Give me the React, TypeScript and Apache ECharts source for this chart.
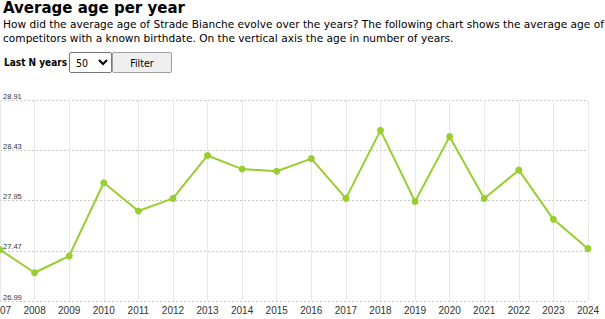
import React, { useEffect, useRef } from "react";
import * as echarts from "echarts";

const years: string[] = [
  "2007", "2008", "2009", "2010", "2011", "2012", "2013", "2014", "2015",
  "2016", "2017", "2018", "2019", "2020", "2021", "2022", "2023", "2024",
];
const avgAge: number[] = [
  27.48, 27.26, 27.42, 28.12, 27.85, 27.97, 28.38, 28.25, 28.23,
  28.35, 27.97, 28.62, 27.94, 28.56, 27.97, 28.24, 27.77, 27.49,
];
const yMin = 26.99;
const yMax = 28.91;
const yStep = 0.48;

const lineColor = "#9acd32";

function Chart() {
  const ref = useRef<HTMLDivElement>(null);
  useEffect(() => {
    if (!ref.current) return;
    const chart = echarts.init(ref.current, undefined, { renderer: "svg" });
    chart.setOption({
      animation: false,
      grid: { left: 0, right: 17, top: 20, bottom: 18, containLabel: false, outerBoundsMode: "none" },
      xAxis: {
        type: "category",
        data: years,
        boundaryGap: false,
        axisLine: { show: false },
        axisTick: { show: false },
        axisLabel: {
          color: "#333",
          fontSize: 10,
          fontFamily: "Liberation Sans",
          margin: 4,
          interval: 0,
        },
        splitLine: { show: true, lineStyle: { color: "#e8e8e8", width: 1, type: "solid" } },
      },
      yAxis: {
        type: "value",
        min: yMin,
        max: yMax,
        interval: yStep,
        axisLine: { show: false },
        axisTick: { show: false },
        axisLabel: {
          inside: true,
          margin: 3,
          verticalAlign: "bottom",
          color: "#333",
          fontSize: 7.5,
          fontFamily: "Liberation Sans",
          formatter: (v: number) => v.toFixed(2),
        },
        splitLine: { show: true, lineStyle: { color: "#c8c8c8", width: 1, type: [2, 2] } },
      },
      series: [
        {
          type: "line",
          data: avgAge,
          symbol: "circle",
          symbolSize: 7,
          lineStyle: { color: lineColor, width: 2 },
          itemStyle: { color: lineColor },
        },
      ],
    });
    return () => chart.dispose();
  }, []);
  return (
    <div
      ref={ref}
      style={{ position: "absolute", left: 0, top: 80, width: 605, height: 239, overflow: "hidden" }}
    />
  );
}

export default function App() {
  return (
    <div style={{ position: "absolute", left: 0, top: 0, width: 605, height: 319, background: "#fff", overflow: "hidden", color: "#000" }}>
      <div
        style={{
          position: "absolute", left: 3, top: -1, fontFamily: "DejaVu Sans", fontWeight: "bold",
          fontSize: 15, lineHeight: "18px", whiteSpace: "nowrap",
        }}
      >
        Average age per year
      </div>
      <div
        style={{
          position: "absolute", left: 3, top: 18, fontFamily: "DejaVu Sans",
          fontSize: 10.6, lineHeight: "13.5px", whiteSpace: "nowrap",
        }}
      >
        How did the average age of Strade Bianche evolve over the years? The following chart shows the average age of
        <br />
        competitors with a known birthdate. On the vertical axis the age in number of years.
      </div>
      <div
        style={{
          position: "absolute", left: 4, top: 52, height: 21, lineHeight: "21px",
          fontFamily: "DejaVu Sans Condensed", fontWeight: "bold", fontSize: 10, whiteSpace: "nowrap",
        }}
      >
        Last N years
      </div>
      <select
        defaultValue="50"
        style={{
          position: "absolute", left: 69, top: 52, width: 43, height: 21, boxSizing: "border-box",
          fontFamily: "DejaVu Sans Condensed", fontSize: 10.5, border: "1px solid #767676",
          borderRadius: 2, background: "#fff", padding: "0 2px", margin: 0,
        }}
      >
        <option value="10">10</option>
        <option value="20">20</option>
        <option value="50">50</option>
      </select>
      <button
        style={{
          position: "absolute", left: 112, top: 52, width: 60, height: 21, boxSizing: "border-box",
          fontFamily: "DejaVu Sans Condensed", fontSize: 10.5, border: "1px solid #a0a0a0",
          borderRadius: 2, background: "#efefef", color: "#000", padding: 0, margin: 0,
        }}
      >
        Filter
      </button>
      <Chart />
    </div>
  );
}
